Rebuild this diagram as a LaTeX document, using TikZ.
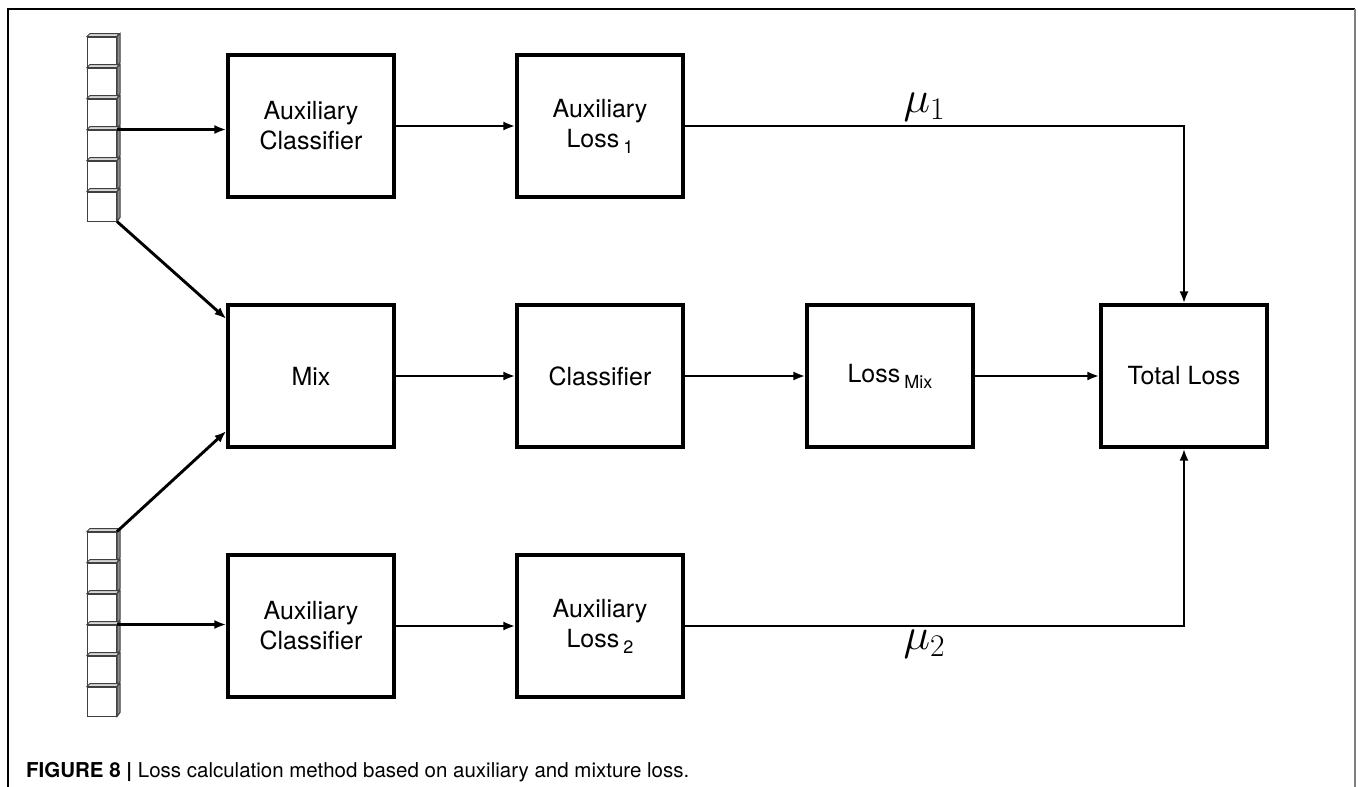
\documentclass[tikz,border=0pt]{standalone}
\usepackage{fix-cm}
\usepackage{fontspec}
\setmainfont{TeX Gyre Heros}
\newfontfamily\capfont{TeX Gyre Heros}
\usetikzlibrary{arrows.meta}
\def\lsub#1{\,{\fontsize{18}{18}\selectfont\raisebox{-6pt}{#1}}}

\tikzset{
  blk/.style={draw, line width=3.2pt, minimum width=166pt, minimum height=142pt, align=center, font=\fontsize{25}{30}\selectfont},
  cub/.style={draw=black!75, line width=1pt, fill=white, minimum width=29pt, minimum height=29pt, inner sep=0pt},
  cubface/.style={draw=black!75, line width=1pt},
  arr/.style={line width=2.9pt, -{Latex[length=12pt,width=9pt]}},
  mu/.style={font=\fontsize{45}{52}\selectfont, inner sep=0pt},
}

\begin{document}
\begin{tikzpicture}[x=1pt, y=-1pt]
  %%%%% FRAME %%%%%
  \useasboundingbox (0,0) rectangle (1358,787);
  \draw[line width=1.4pt] (8,787) -- (8,9) -- (1355,9);
  \draw[line width=2pt, color=black!50] (1355,9) -- (1355,787);

  %%%%% CUBE STACKS %%%%%
  \foreach \i in {1,...,6}{
    \node[cub] (cA\i) at (102, {20.5+31*\i}) {};
    \draw[cubface, fill=black!15] (cA\i.north west) -- ++(3,-3) -- ++(29,0) -- (cA\i.north east) -- cycle;
    \draw[cubface, fill=black!45] (cA\i.north east) -- ++(3,-3) -- ++(0,29) -- (cA\i.south east) -- cycle;
    \node[cub] (cB\i) at (102, {515.5+31*\i}) {};
    \draw[cubface, fill=black!15] (cB\i.north west) -- ++(3,-3) -- ++(29,0) -- (cB\i.north east) -- cycle;
    \draw[cubface, fill=black!45] (cB\i.north east) -- ++(3,-3) -- ++(0,29) -- (cB\i.south east) -- cycle;
  }

  %%%%% BLOCKS %%%%%
  \node[blk] (auxA) at (311,126) {Auxiliary\\Classifier};
  \node[blk] (lossA) at (600,126) {Auxiliary\\Loss\lsub{1}};
  \node[blk] (mix) at (311,376) {Mix};
  \node[blk] (cls) at (600,376) {Classifier};
  \node[blk] (lossM) at (890,376) {Loss\lsub{Mix}};
  \node[blk] (total) at (1184,376) {Total Loss};
  \node[blk] (auxB) at (311,626) {Auxiliary\\Classifier};
  \node[blk] (lossB) at (600,626) {Auxiliary\\Loss\lsub{2}};

  %%%%% CONNECTORS %%%%%
  \draw[arr] (cA4.north east) -- (cA4.north east -| auxA.west);
  \draw[arr] (cB4.north east) -- (cB4.north east -| auxB.west);
  \draw[arr] (cA6.south east) -- (mix.146);
  \draw[arr] (cB1.north east) -- (mix.213);

  \draw[arr] (auxA) -- (lossA);
  \draw[arr] (auxB) -- (lossB);
  \draw[arr] (mix) -- (cls);
  \draw[arr] (cls) -- (lossM);
  \draw[arr] (lossM) -- (total);

  \draw[arr] (lossA.east) -| node[mu, pos=0.24, above=3pt] {$\mu_1$} (total.north);
  \draw[arr] (lossB.east) -| node[mu, pos=0.24, below=3pt] {$\mu_2$} (total.south);

  %%%%% CAPTION %%%%%
  \node[anchor=base west, inner sep=0pt, font=\capfont\fontsize{20.5}{24}\selectfont] (cap) at (26,777)
    {\textbf{FIGURE 8 |} Loss calculation method based on auxiliary and mixture loss.};
\end{tikzpicture}
\end{document}
